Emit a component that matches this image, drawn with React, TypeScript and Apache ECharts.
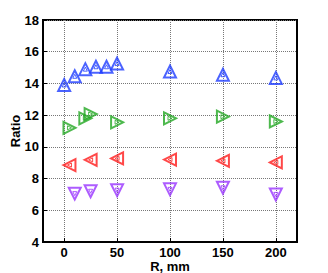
import React, { useEffect, useRef } from "react";
import * as echarts from "echarts";

const xTicks = [0, 50, 100, 150, 200];

const blueX = [0, 10, 20, 30, 40, 50, 100, 150, 200];
const blueY = [13.9, 14.45, 14.9, 15.05, 15.05, 15.25, 14.75, 14.55, 14.35];

const greenX = [5, 20, 25, 50, 100, 150, 200];
const greenY = [11.2, 11.8, 12.07, 11.55, 11.8, 11.9, 11.6];

const redX = [5, 25, 50, 100, 150, 200];
const redY = [8.85, 9.18, 9.27, 9.2, 9.12, 9.02];

const purpleX = [10, 25, 50, 100, 150, 200];
const purpleY = [7.05, 7.2, 7.27, 7.32, 7.42, 7.0];

const FONT = "'Liberation Sans', Arial, sans-serif";

function pairs(xs: number[], ys: number[]) {
  return xs.map((x, i) => [x, ys[i]]);
}

export default function App() {
  const ref = useRef<HTMLDivElement>(null);
  useEffect(() => {
    if (!ref.current) return;
    const chart = echarts.init(ref.current, undefined, { renderer: "svg" });
    const groups = [
      { x: blueX, y: blueY, color: "#1e3cff", rot: 0 },
      { x: greenX, y: greenY, color: "#22a822", rot: -90 },
      { x: redX, y: redY, color: "#ff1a1a", rot: 90 },
      { x: purpleX, y: purpleY, color: "#9933ff", rot: 180 },
    ];
    const series: any[] = [];
    groups.forEach((g) => {
      series.push({
        type: "scatter",
        data: pairs(g.x, g.y),
        symbol: "triangle",
        symbolSize: 12,
        symbolRotate: g.rot,
        itemStyle: { color: "rgba(0,0,0,0)", borderColor: g.color, borderWidth: 2 },
      });
      series.push({
        type: "scatter",
        data: pairs(g.x, g.y),
        symbol: "triangle",
        symbolSize: 4,
        symbolRotate: g.rot,
        itemStyle: { color: "rgba(0,0,0,0)", borderColor: g.color, borderWidth: 1 },
      });
    });
    chart.setOption({
      animation: false,
      grid: {
        left: 43,
        right: 31,
        top: 20,
        bottom: 31,
        show: true,
        borderColor: "#000",
        borderWidth: 2,
        backgroundColor: "transparent",
      },
      graphic: [
        {
          type: "text",
          x: 170,
          y: 266,
          style: { text: "R, mm", font: `bold 13px ${FONT}`, fill: "#000", align: "center", verticalAlign: "middle" },
        },
        {
          type: "text",
          x: 15,
          y: 131,
          rotation: Math.PI / 2,
          style: { text: "Ratio", font: `bold 13px ${FONT}`, fill: "#000", align: "center", verticalAlign: "middle" },
        },
      ],
      xAxis: {
        type: "value",
        min: -20,
        max: 220,
        axisLine: { show: true, onZero: false, lineStyle: { color: "#000", width: 2 } },
        axisTick: { show: true, inside: true, length: 4, customValues: xTicks, lineStyle: { color: "#000", width: 1 } },
        axisLabel: { fontFamily: FONT, fontWeight: "bold", fontSize: 13, color: "#000", margin: 4, customValues: xTicks },
        splitLine: { show: true, lineStyle: { color: "#777", type: "dotted", width: 1 } },
      },
      yAxis: {
        type: "value",
        min: 4,
        max: 18,
        interval: 2,
        axisLine: { show: true, onZero: false, lineStyle: { color: "#000", width: 2 } },
        axisTick: { show: true, inside: true, length: 4, lineStyle: { color: "#000", width: 1 } },
        axisLabel: { fontFamily: FONT, fontWeight: "bold", fontSize: 13, color: "#000", margin: 4 },
        splitLine: { show: true, lineStyle: { color: "#777", type: "dotted", width: 1 } },
      },
      series,
    });
    return () => chart.dispose();
  }, []);
  return <div ref={ref} style={{ width: 328, height: 273, position: "absolute", left: 0, top: 0, background: "#fff" }} />;
}
